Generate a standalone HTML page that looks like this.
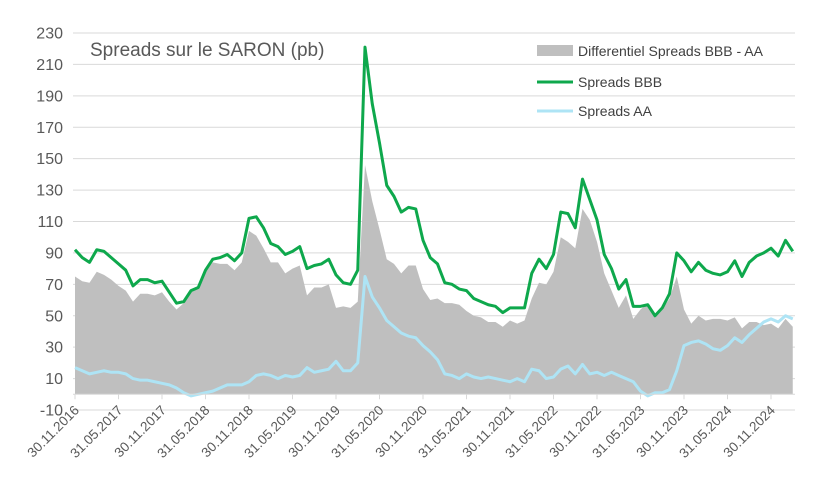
<!DOCTYPE html>
<html><head><meta charset="utf-8"><style>
body{margin:0;background:#fff;}
svg{display:block;font-family:"Liberation Sans",Arial,sans-serif;}
</style></head><body>
<svg id="chart" width="819" height="487" viewBox="0 0 819 487">
<g id="grid"></g>
<g id="plot"></g>
<g id="axes"></g>
<text x="90" y="56" font-size="19" fill="#595959">Spreads sur le SARON (pb)</text>
<g>
<rect x="537" y="45" width="36" height="11" fill="#bfbfbf"></rect>
<text x="578" y="56" font-size="14" fill="#404040">Differentiel Spreads BBB - AA</text>
<line x1="537" y1="82" x2="573" y2="82" stroke="#0ea84c" stroke-width="3"></line>
<text x="578" y="87" font-size="14" fill="#404040">Spreads BBB</text>
<line x1="537" y1="111" x2="573" y2="111" stroke="#aee4f5" stroke-width="3"></line>
<text x="578" y="116" font-size="14" fill="#404040">Spreads AA</text>
</g>
</svg>
<script>
const bbb=[92,87,84,92,91,87,83,79,69,73,73,71,72,65,58,59,66,68,79,86,87,89,85,90,112,113,106,96,94,89,91,94,80,82,83,86,76,71,70,79,
221,185,160,133,126,116,119,118,98,87,83,71,70,67,66,61,59,57,56,52,55,55,55,77,86,80,89,116,115,106,137,124,111,89,80,67,73,56,56,57,
50,55,64,90,85,78,84,79,77,76,78,85,75,84,88,90,93,88,98,91];
const aa=[17,15,13,14,15,14,14,13,10,9,9,8,7,6,4,1,-1,0,1,2,4,6,6,6,8,12,13,12,10,12,11,12,17,14,15,16,21,15,15,20,
75,62,55,47,43,39,37,36,31,27,22,13,12,10,13,11,10,11,10,9,8,10,8,16,15,10,11,16,18,13,19,13,14,12,14,12,10,8,2,-1,
1,1,3,15,31,33,34,32,29,28,31,36,33,38,42,46,48,46,50,48];
const yTicks=[-10,10,30,50,70,90,110,130,150,170,190,210,230];
const xTickLabels=["30.11.2016","31.05.2017","30.11.2017","31.05.2018","30.11.2018","31.05.2019","30.11.2019","31.05.2020","30.11.2020","31.05.2021","30.11.2021","31.05.2022","30.11.2022","31.05.2023","30.11.2023","31.05.2024","30.11.2024"];
const NS="http://www.w3.org/2000/svg";
const X0=75,DX=7.25,Y230=33,Ym10=410;
const xs=i=>X0+i*DX;
const ys=v=>Ym10-(v+10)*(Ym10-Y230)/240;
function mk(t,a,p){const e=document.createElementNS(NS,t);for(const k in a)e.setAttribute(k,a[k]);p.appendChild(e);return e;}
const grid=document.getElementById('grid'),plot=document.getElementById('plot'),axes=document.getElementById('axes');
yTicks.forEach(v=>{
  const l=mk('line',{x1:73,x2:795,y1:ys(v),y2:ys(v),stroke:'#d9d9d9','stroke-width':1},grid);
  
  
  const t=mk('text',{x:63,y:ys(v)+5.5,'text-anchor':'end','font-size':16,fill:'#595959'},axes);
  t.textContent=String(v);
  
  
});
let d='M'+xs(0)+','+ys(0);
bbb.forEach((b,i)=>{d+=' L'+xs(i)+','+ys(b-aa[i]);});
d+=' L'+xs(bbb.length-1)+','+ys(0)+' Z';
const area=mk('path',{d:d,fill:'#bfbfbf'},plot);


const base=mk('line',{x1:73,x2:795,y1:ys(0),y2:ys(0),stroke:'#d9d9d9','stroke-width':1},axes);


function line(arr,col,name){
  const p=mk('polyline',{points:arr.map((v,i)=>xs(i)+','+ys(v)).join(' '),fill:'none',stroke:col,'stroke-width':3,'stroke-linejoin':'round'},plot);
  
  
}
line(aa,'#aee4f5','aa-line');
line(bbb,'#0ea84c','bbb-line');
xTickLabels.forEach((lab,k)=>{
  const x=xs(k*6);
  const tk=mk('line',{x1:x,x2:x,y1:ys(0),y2:ys(0)+5,stroke:'#d9d9d9'},axes);
  
  
  const t=mk('text',{x:x+5,y:411,'text-anchor':'end','font-size':13.5,fill:'#595959',transform:'rotate(-45 '+(x+5)+' 411)'},axes);
  t.textContent=lab;
  
  
});
</script>
</body></html>
